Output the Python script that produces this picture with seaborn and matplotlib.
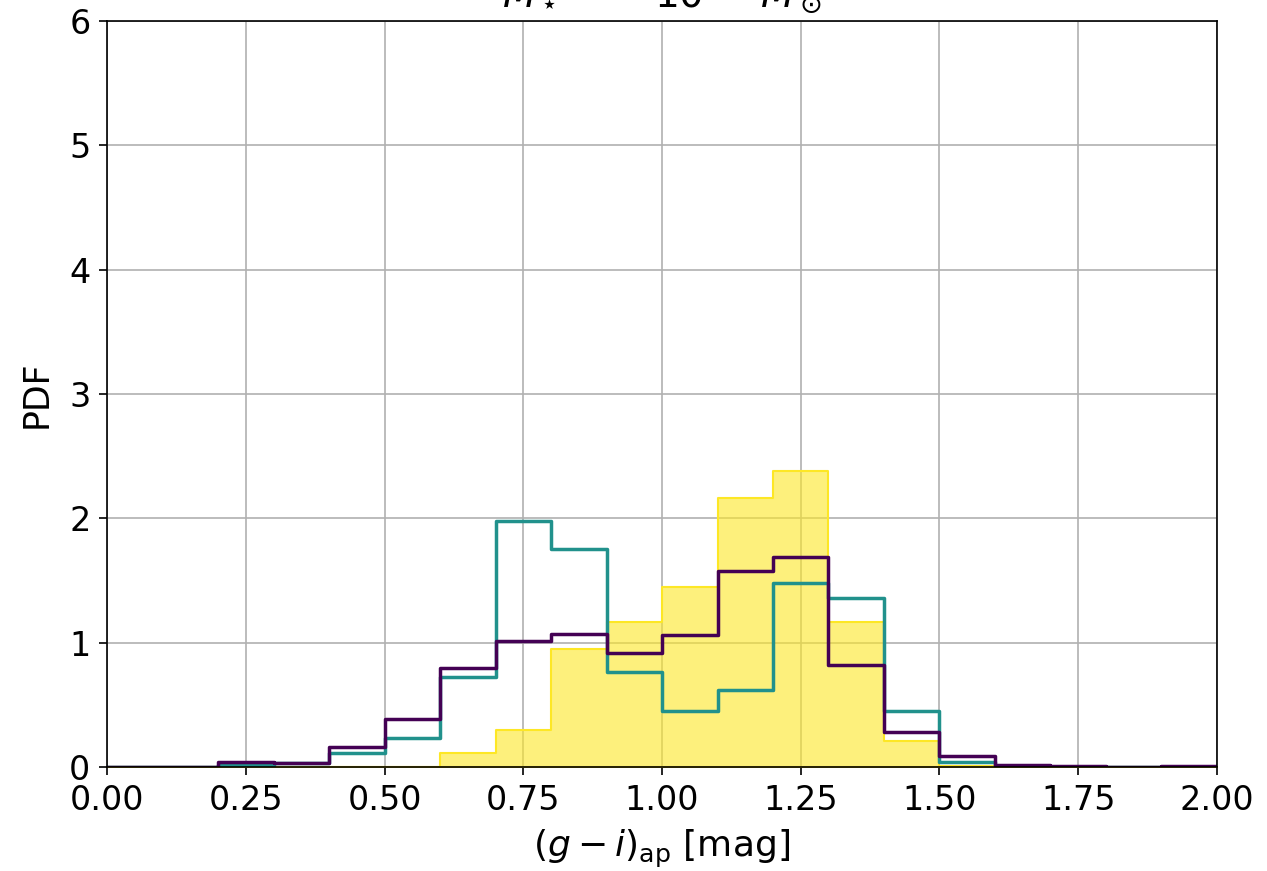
import numpy as np
import pandas as pd
import matplotlib
matplotlib.use("Agg")
import matplotlib.pyplot as plt
import seaborn as sns

edges = [round(0.1 * i, 2) for i in range(21)]
centers = [round(0.05 + 0.1 * i, 3) for i in range(20)]

yellow_pdf = [0, 0, 0, 0, 0, 0, 0.11, 0.30, 0.95, 1.17, 1.45, 2.16, 2.38, 1.17, 0.21, 0.01, 0, 0, 0, 0]
teal_pdf = [0, 0, 0.02, 0.03, 0.11, 0.23, 0.72, 1.98, 1.75, 0.76, 0.45, 0.62, 1.48, 1.36, 0.45, 0.04, 0.005, 0, 0, 0]
purple_pdf = [0, 0, 0.04, 0.03, 0.16, 0.39, 0.80, 1.01, 1.07, 0.92, 1.06, 1.58, 1.69, 0.82, 0.28, 0.09, 0.02, 0.005, 0.003, 0.01]

xticks = [0.0, 0.25, 0.5, 0.75, 1.0, 1.25, 1.5, 1.75, 2.0]
yticks = [0, 1, 2, 3, 4, 5, 6]

df = pd.DataFrame({"x": centers, "yellow": yellow_pdf, "teal": teal_pdf, "purple": purple_pdf})

sns.set_style("ticks", {"axes.grid": True, "grid.color": "#b0b0b0", "axes.edgecolor": "black",
                        "text.color": "black", "axes.labelcolor": "black",
                        "xtick.color": "black", "ytick.color": "black"})
plt.rcParams["font.family"] = ["DejaVu Sans"]
plt.rcParams["font.size"] = 24
plt.rcParams["mathtext.fontset"] = "dejavusans"

fig = plt.figure(figsize=(12.67, 8.71), dpi=100)
ax = fig.add_axes([0.0845, 0.1194, 0.876, 0.8566])

sns.histplot(data=df, x="x", weights="yellow", bins=edges, element="step", fill=True,
             color="#fde725", alpha=0.6, linewidth=1.5, ax=ax)
sns.histplot(data=df, x="x", weights="teal", bins=edges, element="step", fill=False,
             color="#21918c", linewidth=2.5, ax=ax)
sns.histplot(data=df, x="x", weights="purple", bins=edges, element="step", fill=False,
             color="#440154", linewidth=2.5, ax=ax)

ax.set_xlim(0, 2)
ax.set_ylim(0, 6)
ax.set_xticks(xticks)
ax.set_xticklabels([f"{t:.2f}" for t in xticks])
ax.set_yticks(yticks)
ax.set_xlabel(r"$(g-i)_{\rm ap}$ [mag]", fontsize=26, color="black", labelpad=8)
ax.set_ylabel("PDF", fontsize=25, color="black", labelpad=11)
ax.set_title(r"$M_\star\;\;=\;\;10^{11}\;\;M_\odot$", fontsize=28, pad=10, color="black")
ax.tick_params(labelsize=24, length=6, width=1.2, pad=6, color="black", labelcolor="black")
for s in ax.spines.values():
    s.set_visible(True)
    s.set_color("black")
    s.set_linewidth(1.2)
ax.grid(True, color="#b0b0b0", linewidth=1.2)
ax.set_axisbelow(True)

fig.savefig("out.png", dpi=100)
